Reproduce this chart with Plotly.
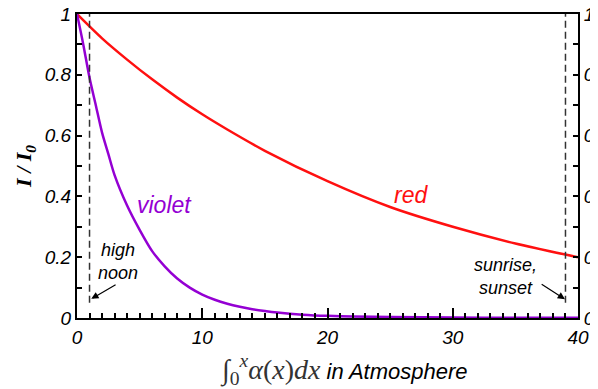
import plotly.graph_objects as go

# Data
red_x = [0, 2, 4, 6, 8, 10, 12, 15, 20, 25, 30, 35, 40]
red_y = [1.0, 0.92, 0.85, 0.785, 0.725, 0.67, 0.62, 0.55, 0.45, 0.365, 0.30, 0.245, 0.20]

violet_x = [0, 0.5, 1, 1.5, 2, 2.5, 3, 4, 5, 6, 7, 8, 9, 10, 11, 12, 13, 14, 15, 16, 18, 20, 22, 25, 30, 35, 40]
violet_y = [1.0, 0.9, 0.79, 0.70, 0.61, 0.54, 0.47, 0.37, 0.29, 0.22, 0.17, 0.13, 0.10, 0.077,
            0.06, 0.047, 0.037, 0.029, 0.023, 0.018, 0.011, 0.007, 0.005, 0.003, 0.0015, 0.001, 0.001]

x_ticks = [0, 10, 20, 30, 40]
y_ticks = [0, 0.2, 0.4, 0.6, 0.8, 1]
y_tick_text = ["0", "0.2", "0.4", "0.6", "0.8", "1"]
marker_x = [1, 39]  # high noon, sunrise/sunset

SANS = "Liberation Sans, Arial, sans-serif"
SERIF = "Liberation Serif, Times New Roman, serif"

fig = go.Figure()
fig.add_trace(go.Scatter(x=red_x, y=red_y, mode="lines",
                         line=dict(color="#ff1010", width=2.5, shape="spline", smoothing=0.8),
                         showlegend=False, hoverinfo="skip"))
fig.add_trace(go.Scatter(x=violet_x, y=violet_y, mode="lines",
                         line=dict(color="#9400d3", width=2.5, shape="spline", smoothing=0.8),
                         showlegend=False, hoverinfo="skip"))
# invisible trace for right axis
fig.add_trace(go.Scatter(x=[0], y=[0], yaxis="y2", mode="markers", marker=dict(opacity=0),
                         showlegend=False, hoverinfo="skip"))

for mx in marker_x:
    fig.add_shape(type="line", xref="x", yref="y", x0=mx, x1=mx, y0=0.05, y1=1,
                  line=dict(color="#333333", width=1.5, dash="7px,4px"))

tickfont = dict(family=SANS, size=19, color="black", style="italic")

fig.update_layout(
    width=598, height=389,
    margin=dict(l=69, r=28, t=6, b=79),
    paper_bgcolor="white", plot_bgcolor="white",
    xaxis=dict(range=[0, 40], tickvals=x_ticks, ticks="inside", ticklen=10, tickwidth=1.5,
               tickcolor="black", showline=True, linewidth=2, linecolor="black", mirror=True,
               showgrid=False, zeroline=False, tickfont=tickfont, ticklabelstandoff=1, automargin=False,
               ticklabeloverflow="allow",
               minor=dict(dtick=1, ticks="inside", ticklen=5, tickwidth=1.5, tickcolor="black", showgrid=False)),
    yaxis=dict(range=[0, 1], tickvals=y_ticks, ticktext=y_tick_text, ticks="inside", ticklen=5, tickwidth=1.5,
               tickcolor="black", showline=True, linewidth=2, linecolor="black", automargin=False,
               showgrid=False, zeroline=False, tickfont=tickfont, ticklabeloverflow="allow",
               minor=dict(dtick=0.1, ticks="inside", ticklen=5, tickwidth=1.5, tickcolor="black", showgrid=False)),
    yaxis2=dict(range=[0, 1], overlaying="y", side="right", tickvals=y_ticks, ticktext=y_tick_text,
                ticks="inside", ticklen=5, tickwidth=1.5, tickcolor="black", showline=True, linewidth=2,
                linecolor="black", showgrid=False, zeroline=False, tickfont=tickfont, automargin=False,
                ticklabeloverflow="allow",
                minor=dict(dtick=0.1, ticks="inside", ticklen=5, tickwidth=1.5, tickcolor="black", showgrid=False)),
)

anns = [
    dict(x=6.97, y=0.372, text="<i>violet</i>", font=dict(family=SANS, size=23, color="#9400d3")),
    dict(x=26.7, y=0.405, text="<i>red</i>", font=dict(family=SANS, size=23, color="#ff1010")),
    dict(x=3.3, y=0.185, text="<i>high<br>noon</i>", font=dict(family=SANS, size=18, color="black")),
    dict(x=34.2, y=0.135, text="<i>sunrise,<br>sunset</i>", font=dict(family=SANS, size=18, color="black")),
]
for a in anns:
    fig.add_annotation(xref="x", yref="y", showarrow=False, **a)

# arrows
fig.add_annotation(xref="x", yref="y", axref="x", ayref="y", x=1.14, y=0.063, ax=3.2, ay=0.112,
                   text="", showarrow=True, arrowhead=2, arrowsize=1.2, arrowwidth=1.2, arrowcolor="black")
fig.add_annotation(xref="x", yref="y", axref="x", ayref="y", x=38.96, y=0.062, ax=36.98, ay=0.114,
                   text="", showarrow=True, arrowhead=2, arrowsize=1.2, arrowwidth=1.2, arrowcolor="black")

# axis titles
fig.add_annotation(xref="paper", yref="paper", x=-0.104, y=0.5, xanchor="center", yanchor="middle",
                   text="<b><i>I / I</i></b><sub><b><i>0</i></b></sub>", textangle=-90, showarrow=False,
                   font=dict(family=SERIF, size=22, color="black"))
fig.add_annotation(xref="paper", yref="paper", x=0.533, y=-0.171, xanchor="center", yanchor="middle",
                   text=("<span style=\"font-family:Liberation Serif;font-size:28px;fill:#333333\">∫<sub>0</sub><sup><i>x</i></sup>"
                         "<i>α</i>(<i>x</i>)<i>dx</i></span> <i>in Atmosphere</i>"),
                   showarrow=False, font=dict(family=SANS, size=22, color="black"))

fig.write_html("out.html")
